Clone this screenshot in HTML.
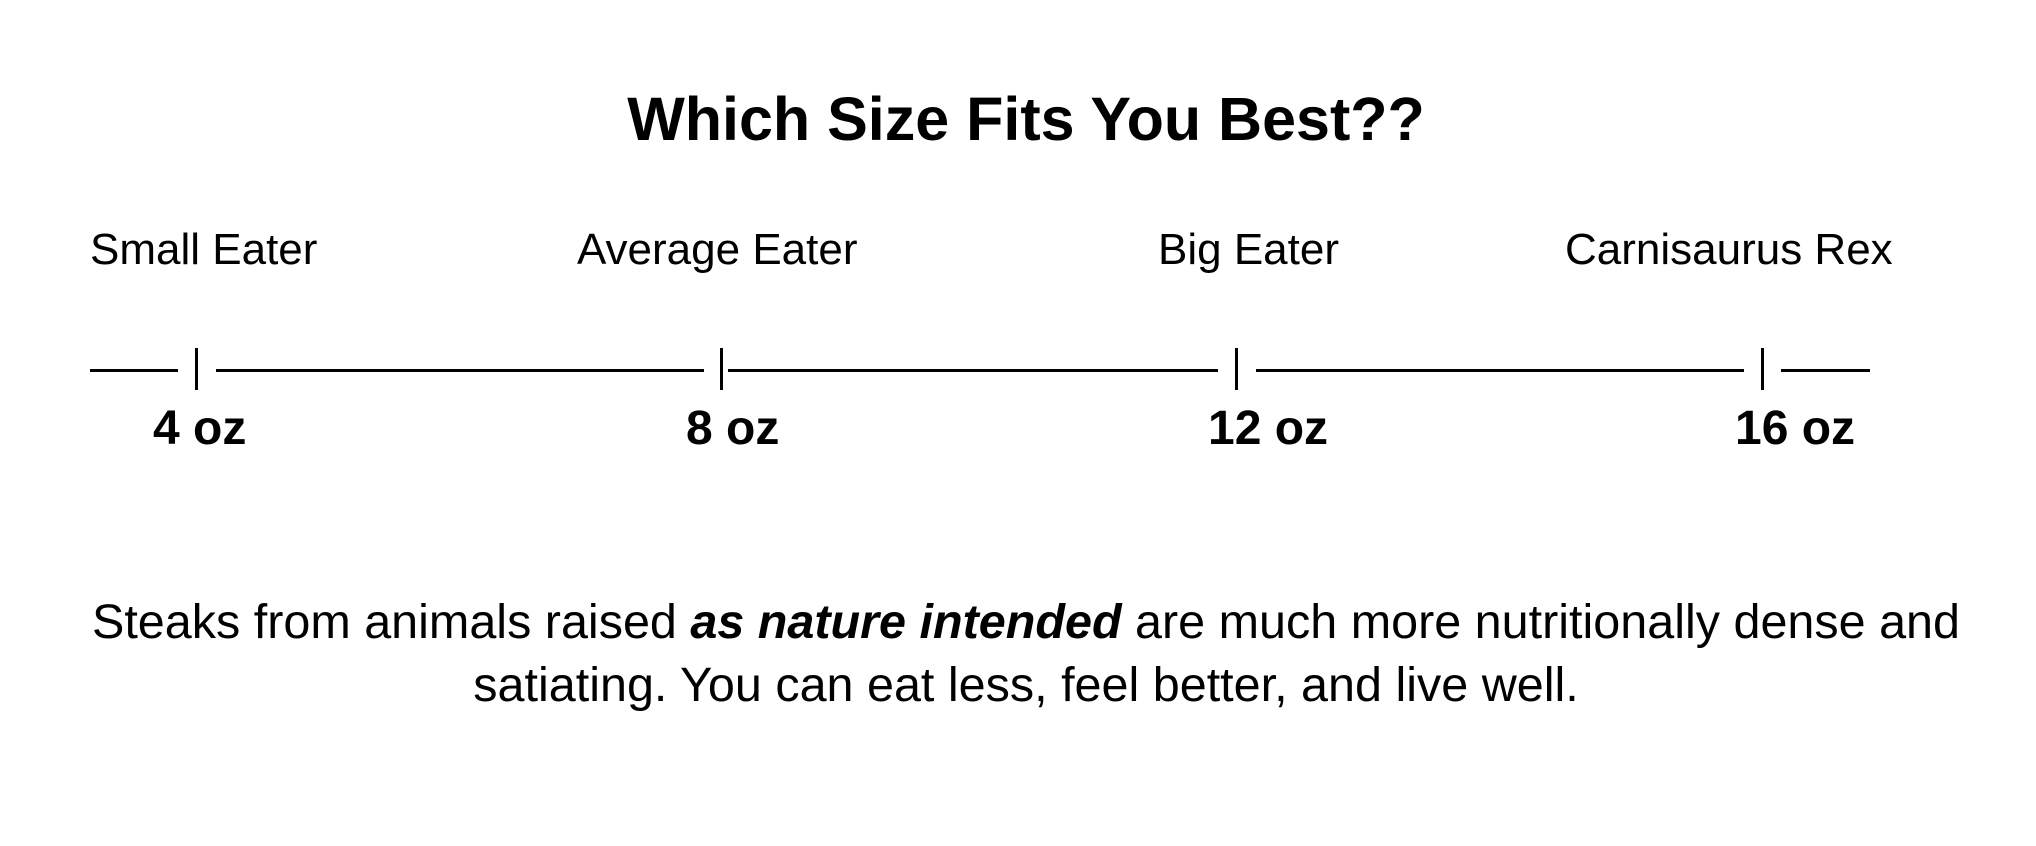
<!DOCTYPE html>
<html><head><meta charset="utf-8"><style>
body{margin:0;width:2036px;height:846px;background:#fff;position:relative;overflow:hidden;font-family:"Liberation Sans",Arial,sans-serif;color:#000}
.t{position:absolute;line-height:1;white-space:nowrap}
.l{position:absolute;height:3px;background:#000;top:369px}
.k{position:absolute;width:3px;background:#000;top:348px;height:42px}
</style></head><body>
<div class="t" style="left:0;width:2052px;text-align:center;top:89px;font-size:61px;font-weight:bold">Which Size Fits You Best??</div>
<div class="t" style="left:90px;top:228px;font-size:44px">Small Eater</div>
<div class="t" style="left:577px;top:228px;font-size:44px">Average Eater</div>
<div class="t" style="left:1158px;top:228px;font-size:44px">Big Eater</div>
<div class="t" style="left:1565px;top:228px;font-size:44px">Carnisaurus Rex</div>
<div class="l" style="left:90px;width:88px"></div>
<div class="l" style="left:216px;width:488px"></div>
<div class="l" style="left:728px;width:490px"></div>
<div class="l" style="left:1256px;width:488px"></div>
<div class="l" style="left:1781px;width:89px"></div>
<div class="k" style="left:195px"></div>
<div class="k" style="left:720px"></div>
<div class="k" style="left:1235px"></div>
<div class="k" style="left:1761px"></div>
<div class="t" style="left:153px;top:405px;font-size:48px;font-weight:bold">4 oz</div>
<div class="t" style="left:686px;top:405px;font-size:48px;font-weight:bold">8 oz</div>
<div class="t" style="left:1208px;top:405px;font-size:48px;font-weight:bold">12 oz</div>
<div class="t" style="left:1735px;top:405px;font-size:48px;font-weight:bold">16 oz</div>
<div class="t" style="left:0;width:2052px;text-align:center;top:598px;font-size:48.5px">Steaks from animals raised <b><i>as nature intended</i></b> are much more nutritionally dense and</div>
<div class="t" style="left:0;width:2052px;text-align:center;top:661px;font-size:48.5px">satiating. You can eat less, feel better, and live well.</div>
</body></html>
